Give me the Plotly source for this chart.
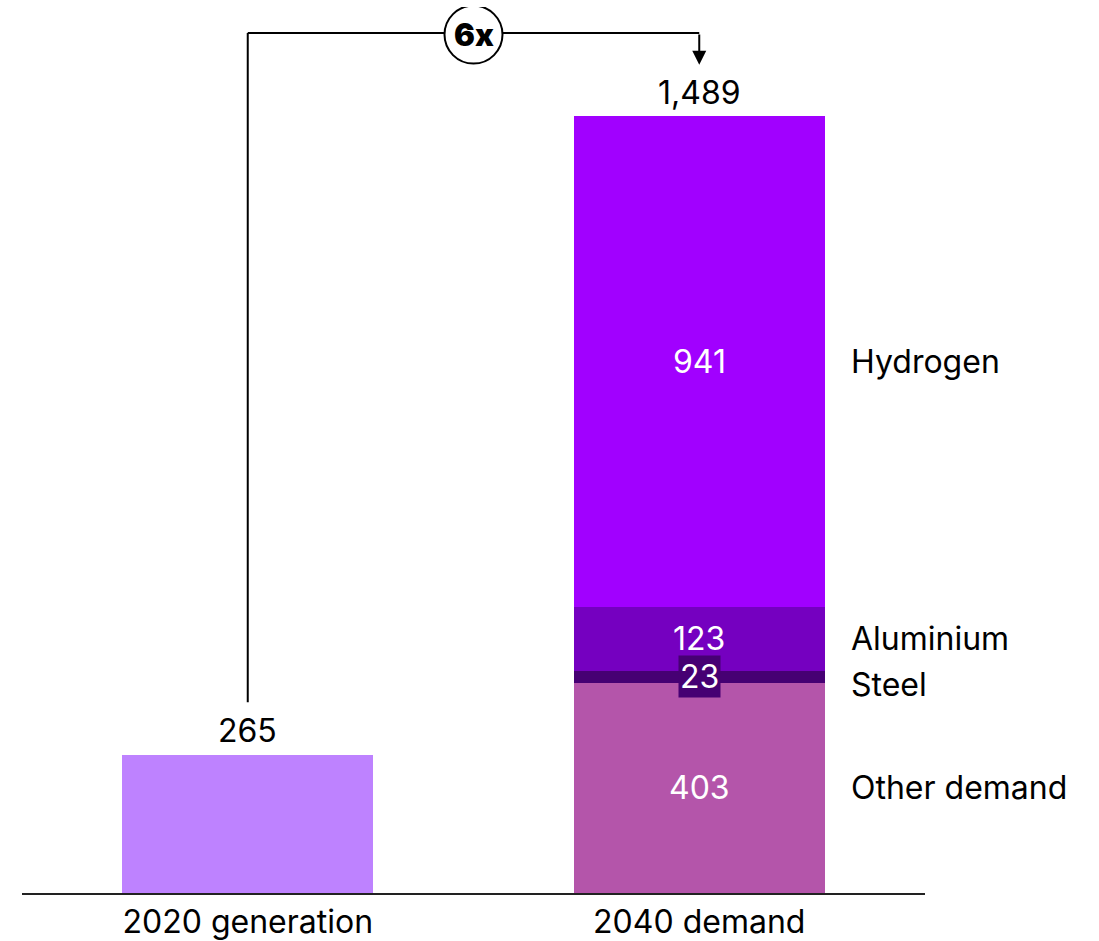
import plotly.graph_objects as go

# Electricity: 2020 generation vs 2040 demand breakdown
categories = ["2020 generation", "2040 demand"]
generation_2020 = [265]
segment_names = ["Other demand", "Steel", "Aluminium", "Hydrogen"]
segment_values = [403, 23, 123, 941]
segment_colors = ["#B455AA", "#460073", "#7500C0", "#A100FF"]
total_2040 = 1489
multiple_label = "6x"

FONT = "Inter, Roboto, sans-serif"
FS = 32
BAR_W = 0.556

fig = go.Figure()

fig.add_trace(go.Bar(
    x=[0], y=generation_2020, width=BAR_W,
    marker=dict(color="#BE82FF", line=dict(width=0)),
    hoverinfo="skip", showlegend=False,
))
for name, val, col in zip(segment_names, segment_values, segment_colors):
    fig.add_trace(go.Bar(
        x=[1], y=[val], width=BAR_W, name=name,
        marker=dict(color=col, line=dict(width=0)),
        hoverinfo="skip", showlegend=False,
    ))

annotations = []
# totals above bars
annotations.append(dict(x=0, y=generation_2020[0], text=f"{generation_2020[0]:,}",
                         showarrow=False, yanchor="bottom", yshift=3,
                         font=dict(family=FONT, size=FS, color="#000")))
annotations.append(dict(x=1, y=total_2040, text=f"{total_2040:,}",
                         showarrow=False, yanchor="bottom", yshift=3,
                         font=dict(family=FONT, size=FS, color="#000")))

# segment values and right-hand labels
base = 0
for name, val, col in zip(segment_names, segment_values, segment_colors):
    mid = base + val / 2
    small = val < 50
    annotations.append(dict(
        x=1, y=mid, text=str(val), showarrow=False,
        font=dict(family=FONT, size=FS, color="#fff"),
        bgcolor=col if small else None, borderpad=1 if small else 0,
    ))
    annotations.append(dict(
        x=1 + BAR_W / 2, y=mid, text=name, showarrow=False,
        xanchor="left", xshift=24, yshift=-8 if small else 0,
        font=dict(family=FONT, size=FS, color="#000"),
    ))
    base += val

# growth bracket
top_y = 1650
start_y = 366
shapes = [
    dict(type="line", x0=0, x1=0, y0=start_y, y1=top_y, xref="x", yref="y",
         line=dict(color="#000", width=2)),
    dict(type="line", x0=0, x1=1, y0=top_y, y1=top_y, xref="x", yref="y",
         line=dict(color="#000", width=2)),
    dict(type="circle", xref="x", yref="y", xsizemode="pixel", ysizemode="pixel",
         xanchor=0.5, yanchor=top_y - 3, x0=-29, x1=29, y0=-29, y1=29,
         fillcolor="#fff", line=dict(color="#000", width=2), layer="above"),
]
annotations.append(dict(
    x=1, y=1589, ax=1, ay=top_y, xref="x", yref="y", axref="x", ayref="y",
    text="", showarrow=True, arrowhead=2, arrowsize=1.4, arrowwidth=2,
    arrowcolor="#000", standoff=0, startstandoff=0,
))
annotations.append(dict(
    x=0.5, y=top_y - 3, text=f"<b>{multiple_label}</b>", showarrow=False,
    font=dict(family="Inter Black, Inter, sans-serif", size=31, color="#000"),
))

fig.update_layout(
    width=1099, height=941,
    margin=dict(l=22, r=174, t=7, b=48, autoexpand=False),
    paper_bgcolor="#fff", plot_bgcolor="#fff",
    barmode="stack", bargap=0,
    shapes=shapes, annotations=annotations,
    xaxis=dict(range=[-0.5, 1.5], tickvals=[0, 1], ticktext=categories,
               showline=True, linecolor="#222", linewidth=2,
               showgrid=False, zeroline=False, ticks="",
               ticklabelstandoff=0, automargin=False,
               tickfont=dict(family=FONT, size=FS, color="#000"),
               fixedrange=True),
    yaxis=dict(range=[0, 1700], visible=False, fixedrange=True, automargin=False),
    showlegend=False,
)

fig.write_html("out.html")
